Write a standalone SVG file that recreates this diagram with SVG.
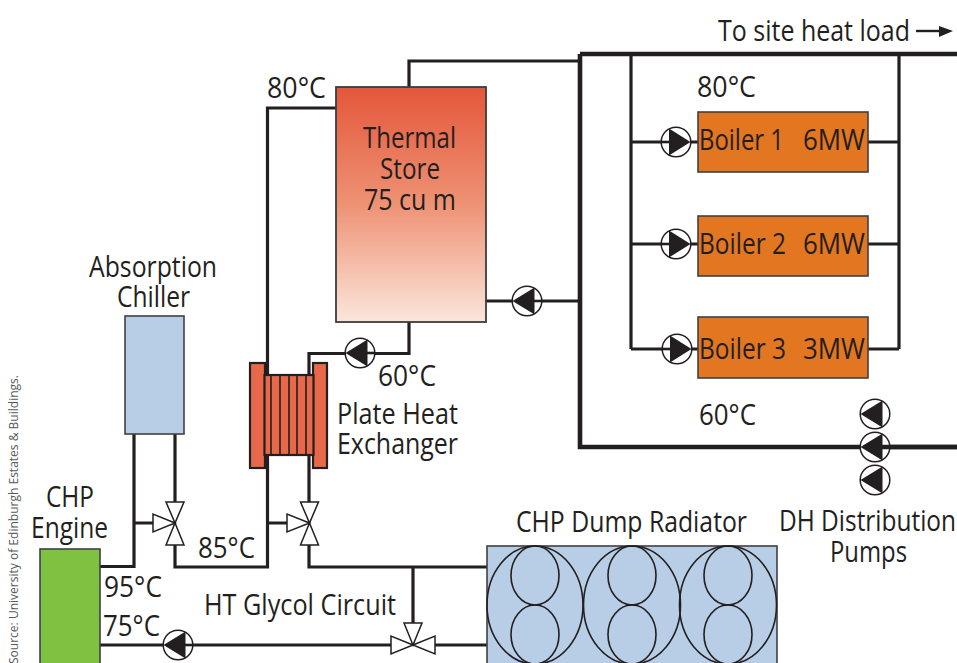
<svg xmlns="http://www.w3.org/2000/svg" xmlns:xlink="http://www.w3.org/1999/xlink" width="957" height="663" viewBox="0 0 957 663">
<style>
text{font-family:"Open Sans","Noto Sans","Liberation Sans",sans-serif;font-size:28.5px;fill:#231f20}
.p{fill:none;stroke:#231f20;stroke-width:3.2}
.m{fill:none;stroke:#231f20;stroke-width:4.6}
.b{stroke:#414042;stroke-width:1.6}
.o{fill:#e37620}
.pc{fill:#fff;stroke:#231f20;stroke-width:1.5}
.pt{fill:#231f20}
.pl{stroke:#231f20;stroke-width:2.6}
.vt{fill:#fff;stroke:#231f20;stroke-width:1.5}
.hx{fill:#e8694a;stroke:#231f20;stroke-width:2.2}
.e{fill:none;stroke:#231f20;stroke-width:1.6}
</style>
<defs>
<linearGradient id="store" x1="0" y1="0" x2="0" y2="1">
<stop offset="0" stop-color="#e4573a"/><stop offset="0.5" stop-color="#ee9274"/><stop offset="1" stop-color="#fbe6dc"/>
</linearGradient>
<g id="pumpR"><circle class="pc" r="14.8"/><path class="pl" d="M-14.800 0H-6"/><path class="pt" d="M-7-13.500L14.500 0L-7 13.500Z"/></g>
<g id="pumpL"><circle class="pc" r="14.8"/><path class="pl" d="M14.800 0H6"/><path class="pt" d="M7.500-13.500L-14.500 0L7.500 13.500Z"/></g>
<g id="pumpD"><circle class="pc" r="14.800"/><path class="pt" d="M7.500-13.500L-14.500 0L7.500 13.500Z"/></g>
</defs>
<g id="connectors">
<path class="m" d="M580 54H957M580 54V447H957"/>
<path class="p" d="M409 87V61H580"/>
<path class="p" d="M631 54V349M899 54V349"/>
<path class="p" d="M631 142H698M868 142H899M631 244H698M868 244H899M631 349H698M868 349H899"/>
<path class="p" d="M486 301H580"/>
<path class="p" d="M336 108H267.500V567H175V545"/>
<path class="p" d="M409 322V353.500H309V375"/>
<path class="p" d="M100 566.500H134V434M134 523H153M175 434V502"/>
<path class="p" d="M268 523H287M309 455V502M309 545V567H487"/>
<path class="p" d="M413 567V623M100 645H391M435 645H487"/>
<path d="M916 31H941" fill="none" stroke="#231f20" stroke-width="2.400"/>
<path class="pt" d="M939 26L953 31L939 37Z"/>
</g>
<g id="thermal-store"><rect x="336" y="87" width="150" height="235" fill="url(#store)" stroke="#3c3c3c" stroke-width="1.800"/>
<text x="363" y="148" textLength="93" lengthAdjust="spacingAndGlyphs">Thermal</text>
<text x="380" y="179" textLength="60" lengthAdjust="spacingAndGlyphs">Store</text>
<text x="364" y="210" textLength="92" lengthAdjust="spacingAndGlyphs">75 cu m</text></g>
<g id="boiler-1"><rect class="o b" x="698" y="112" width="170" height="60"/><text y="150"><tspan x="699" textLength="85" lengthAdjust="spacingAndGlyphs">Boiler 1</tspan> <tspan x="803" textLength="62" lengthAdjust="spacingAndGlyphs">6MW</tspan></text></g>
<g id="boiler-2"><rect class="o b" x="698" y="216" width="170" height="60"/><text y="254"><tspan x="699" textLength="87" lengthAdjust="spacingAndGlyphs">Boiler 2</tspan> <tspan x="803" textLength="62" lengthAdjust="spacingAndGlyphs">6MW</tspan></text></g>
<g id="boiler-3"><rect class="o b" x="698" y="317" width="170" height="61"/><text y="359"><tspan x="699" textLength="87" lengthAdjust="spacingAndGlyphs">Boiler 3</tspan> <tspan x="803" textLength="62" lengthAdjust="spacingAndGlyphs">3MW</tspan></text></g>
<g id="pumps">
<use xlink:href="#pumpR" href="#pumpR" x="676" y="142"/>
<use xlink:href="#pumpR" href="#pumpR" x="676" y="244"/>
<use xlink:href="#pumpR" href="#pumpR" x="677" y="349"/>
<use xlink:href="#pumpL" href="#pumpL" x="527" y="301"/>
<use xlink:href="#pumpL" href="#pumpL" x="360" y="353"/>
<use xlink:href="#pumpL" href="#pumpL" x="178" y="645"/>
<use xlink:href="#pumpD" href="#pumpD" x="875" y="414"/>
<use xlink:href="#pumpD" href="#pumpD" x="875" y="480"/>
<use xlink:href="#pumpD" href="#pumpD" x="875" y="447"/>
<path d="M866 447H957" fill="none" stroke="#231f20" stroke-width="4.600"/>
</g>
<g id="heat-exchanger">
<rect class="hx" x="250" y="363" width="15" height="105"/>
<rect class="hx" x="313" y="363" width="14" height="105"/>
<rect class="hx" x="264.500" y="375" width="49" height="80"/>
<path d="M271 375V455M280 375V455M289 375V455M297 375V455M306 375V455" fill="none" stroke="#231f20" stroke-width="1.600"/>
<text x="337" y="424" textLength="121" lengthAdjust="spacingAndGlyphs">Plate Heat</text>
<text x="337" y="454" textLength="121" lengthAdjust="spacingAndGlyphs">Exchanger</text>
</g>
<g id="absorption-chiller"><rect x="125" y="316" width="59" height="118" fill="#b8cde6" stroke="#414042" stroke-width="1.600"/>
<text x="89" y="277" textLength="128" lengthAdjust="spacingAndGlyphs">Absorption</text>
<text x="117" y="307" textLength="73" lengthAdjust="spacingAndGlyphs">Chiller</text></g>
<g id="chp-engine"><rect x="40" y="549" width="60" height="120" fill="#7fc241" stroke="#414042" stroke-width="1.600"/>
<text x="46" y="507" textLength="48" lengthAdjust="spacingAndGlyphs">CHP</text>
<text x="31" y="538" textLength="77" lengthAdjust="spacingAndGlyphs">Engine</text></g>
<g id="valve-1"><path class="vt" d="M175 523L166 502H184ZM175 523L166 545H184ZM175 523L153 514V532Z"/></g>
<g id="valve-2"><path class="vt" d="M309.500 523L300.500 502H318.500ZM309.500 523L300.500 545H318.500ZM309.500 523L287 514V532Z"/></g>
<g id="valve-3"><path class="vt" d="M413 645L404 623H422ZM413 645L391 636V654ZM413 645L435 636V654Z"/></g>
<g id="dump-radiator"><rect x="487" y="546" width="290" height="125" fill="#b8cde6" stroke="#414042" stroke-width="1.600"/>
<ellipse class="e" cx="535" cy="605" rx="48" ry="59"/><ellipse class="e" cx="632" cy="605" rx="48.500" ry="59"/><ellipse class="e" cx="728" cy="605" rx="48.500" ry="59"/>
<ellipse class="e" cx="535" cy="575.500" rx="24" ry="29.500"/><ellipse class="e" cx="535" cy="634.500" rx="24" ry="29.500"/>
<ellipse class="e" cx="632" cy="575.500" rx="24" ry="29.500"/><ellipse class="e" cx="632" cy="634.500" rx="24" ry="29.500"/>
<ellipse class="e" cx="728" cy="575.500" rx="24" ry="29.500"/><ellipse class="e" cx="728" cy="634.500" rx="24" ry="29.500"/>
<text x="516" y="532" textLength="231" lengthAdjust="spacingAndGlyphs">CHP Dump Radiator</text></g>
<g id="labels">
<text x="718" y="41" textLength="192" lengthAdjust="spacingAndGlyphs">To site heat load</text>
<text x="697" y="97" textLength="59" lengthAdjust="spacingAndGlyphs">80°C</text>
<text x="267" y="98" textLength="59" lengthAdjust="spacingAndGlyphs">80°C</text>
<text x="699" y="425" textLength="57" lengthAdjust="spacingAndGlyphs">60°C</text>
<text x="378" y="386" textLength="58" lengthAdjust="spacingAndGlyphs">60°C</text>
<text x="198" y="558" textLength="57" lengthAdjust="spacingAndGlyphs">85°C</text>
<text x="104" y="597" textLength="58" lengthAdjust="spacingAndGlyphs">95°C</text>
<text x="103" y="636" textLength="57" lengthAdjust="spacingAndGlyphs">75°C</text>
<text x="204" y="615" textLength="192" lengthAdjust="spacingAndGlyphs">HT Glycol Circuit</text>
<text x="779" y="531" textLength="177" lengthAdjust="spacingAndGlyphs">DH Distribution</text>
<text x="830" y="562" textLength="77" lengthAdjust="spacingAndGlyphs">Pumps</text>
<text transform="translate(18 664) rotate(-90)" textLength="289" lengthAdjust="spacingAndGlyphs" style="font-size:12px;fill:#58595b">Source: University of Edinburgh Estates &amp; Buildings.</text>
</g>
</svg>
